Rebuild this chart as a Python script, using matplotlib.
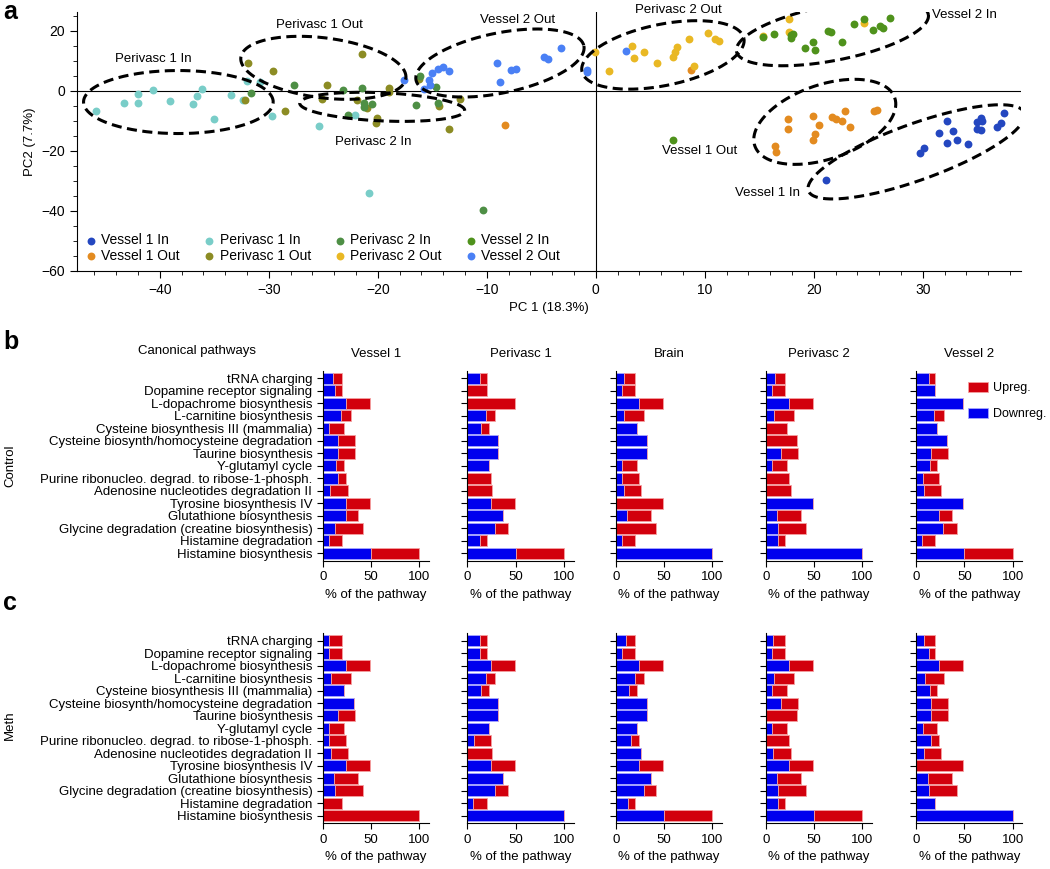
import numpy as np
import matplotlib.pyplot as plt
from matplotlib.ticker import MultipleLocator

plt.rcParams['font.family'] = ['Liberation Sans', 'DejaVu Sans']
plt.rcParams['font.size'] = 9

# ---------------- panel a: PCA scores ----------------
groups = ['Vessel 1 In', 'Vessel 1 Out', 'Perivasc 1 In', 'Perivasc 1 Out',
          'Perivasc 2 In', 'Perivasc 2 Out', 'Vessel 2 In', 'Vessel 2 Out']
group_colors = ['#2447c0', '#e38b20', '#79cdc8', '#8c8c24',
                '#4e8f45', '#e9b824', '#4f921c', '#4a80f5']

v1_in_x = [21.1, 29.7, 30.1, 31.5, 32.2, 32.2, 32.8, 33.1, 34.1, 35.0, 35.0, 35.3, 35.3, 35.4, 36.8, 37.2, 37.4]
v1_in_y = [-29.8, -20.8, -18.9, -14.0, -10.1, -17.2, -13.3, -16.3, -17.8, -10.2, -12.8, -9.1, -13.0, -10.1, -12.1, -10.8, -7.4]
v1_out_x = [-8.3, 8.7, 16.4, 16.5, 17.6, 17.6, 19.9, 20.5, 20.1, 19.9, 21.7, 22.0, 22.6, 22.9, 23.3, 25.5, 25.8]
v1_out_y = [-11.3, 6.9, -18.3, -20.2, -12.8, -9.2, -8.3, -11.2, -14.4, -16.2, -8.6, -9.4, -10.0, -6.8, -12.1, -6.6, -6.2]
p1_in_x = [-45.9, -43.3, -42.0, -42.0, -40.6, -39.1, -37.0, -36.6, -36.1, -35.0, -33.5, -32.4, -32.0, -30.8, -29.7, -25.4, -20.8, -22.1]
p1_in_y = [-6.6, -3.9, -0.9, -3.9, 0.3, -3.2, -4.2, -1.6, 0.6, -9.2, -1.2, -3.0, 3.2, 3.1, -8.4, -11.6, -34.0, -8.0]
p1_out_x = [-31.9, -29.6, -32.2, -28.5, -24.7, -25.1, -21.5, -21.9, -21.0, -20.1, -20.2, -19.0, -19.0, -16.2, -14.4, -13.5, -12.5]
p1_out_y = [9.2, 6.8, -3.0, -6.6, 2.1, -2.7, 12.2, -2.9, -5.8, -8.9, -10.8, 1.1, -0.2, 4.0, -5.0, -12.8, -2.6]
p2_in_x = [-31.6, -27.7, -23.2, -22.7, -21.5, -21.3, -21.3, -20.5, -16.5, -16.1, -14.7, -14.5, -10.4]
p2_in_y = [-0.7, 1.9, 0.2, -8.0, 1.1, -4.1, -5.4, -4.4, -4.8, 5.0, 1.4, -3.9, -39.8]
p2_out_x = [-0.1, 1.2, 3.3, 3.5, 4.4, 5.6, 7.1, 7.3, 7.4, 8.5, 10.3, 10.9, 11.3, 9.0, 17.7, 17.7, 15.3, 24.6]
p2_out_y = [12.9, 6.6, 15.1, 10.9, 12.9, 9.2, 11.4, 12.9, 14.8, 17.4, 19.2, 17.4, 16.8, 8.4, 24.1, 19.6, 18.3, 22.6]
v2_in_x = [7.1, 15.3, 16.3, 17.9, 18.1, 17.9, 19.2, 19.9, 20.1, 21.3, 21.6, 22.6, 23.7, 24.6, 25.4, 26.1, 26.3, 27.0]
v2_in_y = [-16.3, 17.9, 19.0, 18.6, 18.9, 17.7, 14.4, 16.2, 13.7, 20.1, 19.6, 16.2, 22.4, 24.1, 20.4, 21.6, 21.0, 24.3]
v2_out_x = [-17.6, -15.8, -15.3, -15.2, -15.0, -14.5, -14.0, -13.5, -9.1, -8.8, -7.8, -7.3, -4.8, -4.4, -3.2, -0.8, -0.8, 2.8]
v2_out_y = [3.7, 0.8, 3.7, 2.0, 6.1, 7.4, 8.1, 6.8, 9.2, 2.9, 6.9, 7.4, 11.4, 10.7, 14.2, 7.0, 6.2, 13.4]

scores_x = [v1_in_x, v1_out_x, p1_in_x, p1_out_x, p2_in_x, p2_out_x, v2_in_x, v2_out_x]
scores_y = [v1_in_y, v1_out_y, p1_in_y, p1_out_y, p2_in_y, p2_out_y, v2_in_y, v2_out_y]

# cluster outlines: label, centre, major half-axis, minor half-axis, label pos
cluster_names = ['Perivasc 1 In', 'Perivasc 1 Out', 'Perivasc 2 In', 'Vessel 2 Out',
                 'Perivasc 2 Out', 'Vessel 2 In', 'Vessel 1 Out', 'Vessel 1 In']
cluster_centre = [(-38.3, -3.7), (-25.0, 7.7), (-19.6, -5.3), (-8.8, 9.3),
                  (6.15, 12.0), (21.7, 19.3), (21.0, -10.3), (29.4, -20.3)]
cluster_major = [(8.7, 0.0), (7.57, -3.5), (7.57, -1.2), (7.7, 5.7),
                 (7.43, 5.5), (8.8, 6.17), (6.42, 8.0), (9.9, 13.0)]
cluster_minor = [(0.0, 10.5), (0.35, 9.9), (0.0, 4.7), (0.55, -9.8),
                 (0.55, -10.0), (0.48, -9.0), (1.1, -11.7), (0.88, -8.8)]
cluster_label_pos = [(-40.6, 10.7), (-25.4, 22.0), (-20.4, -17.0), (-7.2, 23.7),
                     (7.6, 27.0), (33.8, 25.3), (9.5, -20.0), (15.7, -34.0)]

# ---------------- panels b, c: pathway bars ----------------
pathways = ['tRNA charging', 'Dopamine receptor signaling', 'L-dopachrome biosynthesis',
            'L-carnitine biosynthesis', 'Cysteine biosynthesis III (mammalia)',
            'Cysteine biosynth/homocysteine degradation', 'Taurine biosynthesis',
            'Y-glutamyl cycle', 'Purine ribonucleo. degrad. to ribose-1-phosph.',
            'Adenosine nucleotides degradation II', 'Tyrosine biosynthesis IV',
            'Glutathione biosynthesis', 'Glycine degradation (creatine biosynthesis)',
            'Histamine degradation', 'Histamine biosynthesis']
regions = ['Vessel 1', 'Perivasc 1', 'Brain', 'Perivasc 2', 'Vessel 2']

ctrl_down = [
    [11, 13, 24, 19, 7, 16, 16, 14, 16, 8, 24, 24, 13, 6, 50],
    [13, 0, 0, 19, 14, 32, 32, 22, 0, 0, 24, 37, 29, 13, 50],
    [9, 6, 24, 9, 22, 32, 32, 7, 7, 9, 0, 12, 0, 6, 100],
    [10, 6, 24, 9, 0, 0, 16, 7, 0, 0, 49, 12, 13, 13, 100],
    [13, 20, 49, 19, 22, 32, 16, 14, 7, 8, 49, 24, 28, 6, 50],
]
ctrl_up = [
    [9, 7, 25, 10, 15, 17, 17, 8, 8, 18, 25, 13, 29, 14, 50],
    [7, 20, 49, 10, 8, 0, 0, 0, 24, 26, 25, 0, 13, 7, 50],
    [11, 14, 25, 20, 0, 0, 0, 15, 17, 17, 49, 25, 42, 14, 0],
    [10, 14, 25, 20, 22, 32, 17, 15, 24, 26, 0, 25, 29, 7, 0],
    [7, 0, 0, 10, 0, 0, 17, 8, 17, 18, 0, 13, 14, 14, 50],
]
meth_down = [
    [7, 7, 24, 9, 22, 32, 16, 7, 7, 9, 24, 12, 13, 0, 0],
    [13, 13, 24, 19, 14, 32, 32, 22, 7, 0, 24, 37, 29, 6, 100],
    [11, 6, 24, 20, 14, 32, 32, 22, 16, 26, 24, 37, 29, 13, 50],
    [8, 6, 24, 9, 7, 16, 0, 7, 0, 8, 24, 12, 13, 13, 50],
    [8, 13, 24, 9, 14, 16, 16, 7, 16, 8, 0, 12, 13, 20, 100],
]
meth_up = [
    [13, 13, 25, 20, 0, 0, 17, 15, 17, 17, 25, 25, 29, 20, 100],
    [7, 7, 25, 10, 8, 0, 0, 0, 17, 26, 25, 0, 13, 14, 0],
    [9, 14, 25, 9, 8, 0, 0, 0, 8, 0, 25, 0, 13, 7, 50],
    [12, 14, 25, 20, 15, 17, 32, 15, 24, 18, 25, 25, 29, 7, 50],
    [12, 7, 25, 20, 8, 17, 17, 15, 8, 18, 49, 25, 29, 0, 0],
]

up_color = '#d2000d'
down_color = '#0000ee'

W, H = 1050, 869
fig = plt.figure(figsize=(W / 100, H / 100), dpi=100)

# ---- panel a ----
ax = fig.add_axes([77 / W, 1 - 271 / H, 944 / W, 259 / H])
ax.axhline(0, color='black', lw=0.8, zorder=1)
ax.axvline(0, color='black', lw=0.8, zorder=1)
for name, col, xs, ys in zip(groups, group_colors, scores_x, scores_y):
    ax.scatter(xs, ys, s=32, color=col, label=name, zorder=3, linewidths=0)

t = np.linspace(0, 2 * np.pi, 300)
for (cx, cy), (mx, my), (nx, ny), (lx, ly), name in zip(
        cluster_centre, cluster_major, cluster_minor, cluster_label_pos, cluster_names):
    ex = cx + mx * np.cos(t) + nx * np.sin(t)
    ey = cy + my * np.cos(t) + ny * np.sin(t)
    ax.plot(ex, ey, color='black', lw=2.2, dashes=(3.3, 1.8), zorder=4)
    ax.text(lx, ly, name, ha='center', va='center', fontsize=9.5)

ax.set_xlim(-47.6, 39)
ax.set_ylim(-60, 26.3)
ax.xaxis.set_major_locator(MultipleLocator(10))
ax.xaxis.set_minor_locator(MultipleLocator(2))
ax.yaxis.set_major_locator(MultipleLocator(20))
ax.yaxis.set_minor_locator(MultipleLocator(5))
ax.tick_params(which='major', direction='out', length=5, labelsize=10)
ax.tick_params(which='minor', direction='out', length=3)
ax.spines['top'].set_visible(False)
ax.spines['right'].set_visible(False)
ax.set_xlabel('PC 1 (18.3%)', fontsize=9.5)
ax.set_ylabel('PC2 (7.7%)', fontsize=9.5)
ax.legend(ncol=4, loc='lower left', frameon=False, fontsize=10, scatterpoints=1,
          handlelength=0.8, handletextpad=0.35, columnspacing=1.7,
          labelspacing=0.1, borderaxespad=0.2)

# ---- panels b and c ----
col_left = [322.7, 467.3, 615.7, 765.7, 916.0]
rows = [(370.7, 561.0, ctrl_down, ctrl_up), (633.3, 823.3, meth_down, meth_up)]
ypos = np.arange(len(pathways))
for r, (top, bottom, downs, ups) in enumerate(rows):
    for c, left in enumerate(col_left):
        bx = fig.add_axes([left / W, 1 - bottom / H, 106.4 / W, (bottom - top) / H])
        hb = bx.barh(ypos, downs[c], height=0.88, color=down_color,
                     edgecolor='#a8a8ff', linewidth=0.6)
        hr = bx.barh(ypos, ups[c], left=downs[c], height=0.88, color=up_color,
                     edgecolor='#f4a0a0', linewidth=0.6)
        bx.set_xlim(0, 110)
        bx.set_ylim(len(pathways) - 0.4, -0.6)
        bx.set_xticks([0, 50, 100])
        bx.set_yticks(ypos)
        if c == 0:
            bx.set_yticklabels(pathways, fontsize=9.7)
        else:
            bx.set_yticklabels([])
        bx.tick_params(direction='out', length=4, labelsize=9.5)
        bx.spines['top'].set_visible(False)
        bx.spines['right'].set_visible(False)
        bx.set_xlabel('% of the pathway', fontsize=9.5)
        if r == 0:
            bx.set_title(regions[c], fontsize=9.5, pad=10)
        if r == 0 and c == 4:
            bx.legend([hr, hb], ['Upreg.', 'Downreg.'], loc='upper left',
                      bbox_to_anchor=(0.38, 1.0), frameon=False, fontsize=9,
                      handlelength=1.6, handleheight=0.85, handletextpad=0.4,
                      labelspacing=1.1)

fig.text(197 / W, 1 - 351 / H, 'Canonical pathways', ha='center', va='center', fontsize=9.5)
fig.text(10 / W, 1 - 466 / H, 'Control', rotation=90, ha='center', va='center', fontsize=9.5)
fig.text(10 / W, 1 - 725 / H, 'Meth', rotation=90, ha='center', va='center', fontsize=9.5)
fig.text(3 / W, 1 - 12 / H, 'a', fontsize=18, fontweight='bold', ha='left', va='center')
fig.text(3 / W, 1 - 342 / H, 'b', fontsize=18, fontweight='bold', ha='left', va='center')
fig.text(3 / W, 1 - 603 / H, 'c', fontsize=18, fontweight='bold', ha='left', va='center')

fig.savefig('out.png', dpi=100)
